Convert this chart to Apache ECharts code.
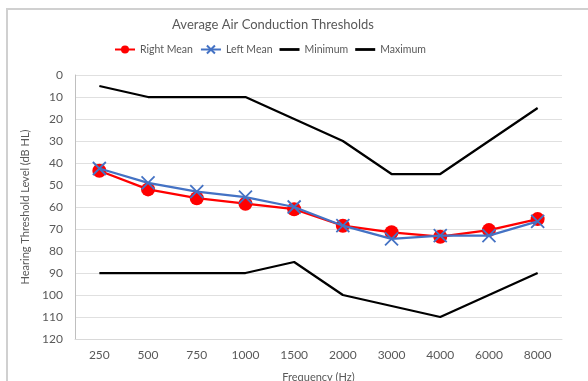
<!DOCTYPE html>
<html><head><meta charset="utf-8">
<script src="https://cdn.jsdelivr.net/npm/echarts@6/dist/echarts.min.js"></script>
<style>html,body{margin:0;padding:0;background:#fff}#c{width:588px;height:381px}</style>
</head><body><div id="c"></div>
<script>
const categories = ['250','500','750','1000','1500','2000','3000','4000','6000','8000'];
const rightMean = [43.5, 52, 56, 58.5, 61, 68.5, 71.5, 73.5, 70.5, 65.5];
const leftMean  = [42.5, 49, 53, 55.5, 60, 68.5, 74.5, 73, 73, 66.5];
const minimum   = [5, 10, 10, 10, 20, 30, 45, 45, 30, 15];
const maximum   = [90, 90, 90, 90, 85, 100, 105, 110, 100, 90];
const yTicks = {min: 0, max: 120, interval: 10};

const font = 'Lato, "Open Sans", sans-serif';
const chart = echarts.init(document.getElementById('c'), null, {renderer: 'canvas'});
const xSym = 'path://M0,0L10,10M10,0L0,10';
const lineIcon = 'path://M0,0L0,0M0,3.6H20V6.4H0ZM20,10L20,10';
chart.setOption({
  animation: false,
  backgroundColor: '#fff',
  graphic: [{type: 'rect', shape: {x: 7, y: 9, width: 700, height: 500}, style: {fill: 'none', stroke: '#d0d0d0', lineWidth: 2}, silent: true}],
  title: {text: 'Average Air Conduction Thresholds', left: 268, textAlign: 'center', top: 13,
    textStyle: {fontFamily: font, fontSize: 13, fontWeight: 'normal', color: '#595959'}},
  legend: {left: 114, top: 44, padding: 0, itemWidth: 20, itemHeight: 10, itemGap: 7,
    textStyle: {fontFamily: font, fontSize: 10.5, color: '#595959'},
    data: ['Right Mean', 'Left Mean', {name: 'Minimum', icon: lineIcon}, {name: 'Maximum', icon: lineIcon}]},
  grid: {left: 75, right: 26, top: 75, bottom: 42, containLabel: false, outerBoundsMode: 'none'},
  xAxis: {type: 'category', data: categories, boundaryGap: true,
    name: 'Frequency (Hz)', nameLocation: 'middle', nameGap: 33,
    nameTextStyle: {fontFamily: font, fontSize: 11, color: '#595959'},
    axisLine: {onZero: false, lineStyle: {color: '#d9d9d9'}}, axisTick: {show: false},
    axisLabel: {fontFamily: font, fontSize: 12, color: '#595959', margin: 10}},
  yAxis: {type: 'value', inverse: true, min: yTicks.min, max: yTicks.max, interval: yTicks.interval,
    name: 'Hearing Threshold Level (dB HL)', nameLocation: 'middle', nameGap: 35,
    nameTextStyle: {fontFamily: font, fontSize: 11, color: '#595959'},
    axisLine: {show: true, lineStyle: {color: '#bfbfbf'}}, axisTick: {show: false},
    axisLabel: {fontFamily: font, fontSize: 12, color: '#595959', margin: 12},
    splitLine: {lineStyle: {color: '#e0e0e0'}}},
  series: [
    {name: 'Right Mean', type: 'line', data: rightMean, symbol: 'circle', symbolSize: 14,
      lineStyle: {color: '#ff0000', width: 2.25}, itemStyle: {color: '#ff0000'}, z: 3},
    {name: 'Left Mean', type: 'line', data: leftMean, symbol: xSym, symbolSize: 13,
      lineStyle: {color: '#4472c4', width: 2.25},
      itemStyle: {color: '#4472c4', borderColor: '#4472c4', borderWidth: 1.8}, z: 4},
    {name: 'Minimum', type: 'line', data: minimum, symbol: 'none',
      lineStyle: {color: '#000', width: 2.25}, itemStyle: {color: '#000'}},
    {name: 'Maximum', type: 'line', data: maximum, symbol: 'none',
      lineStyle: {color: '#000', width: 2.25}, itemStyle: {color: '#000'}}
  ]
});
</script></body></html>
